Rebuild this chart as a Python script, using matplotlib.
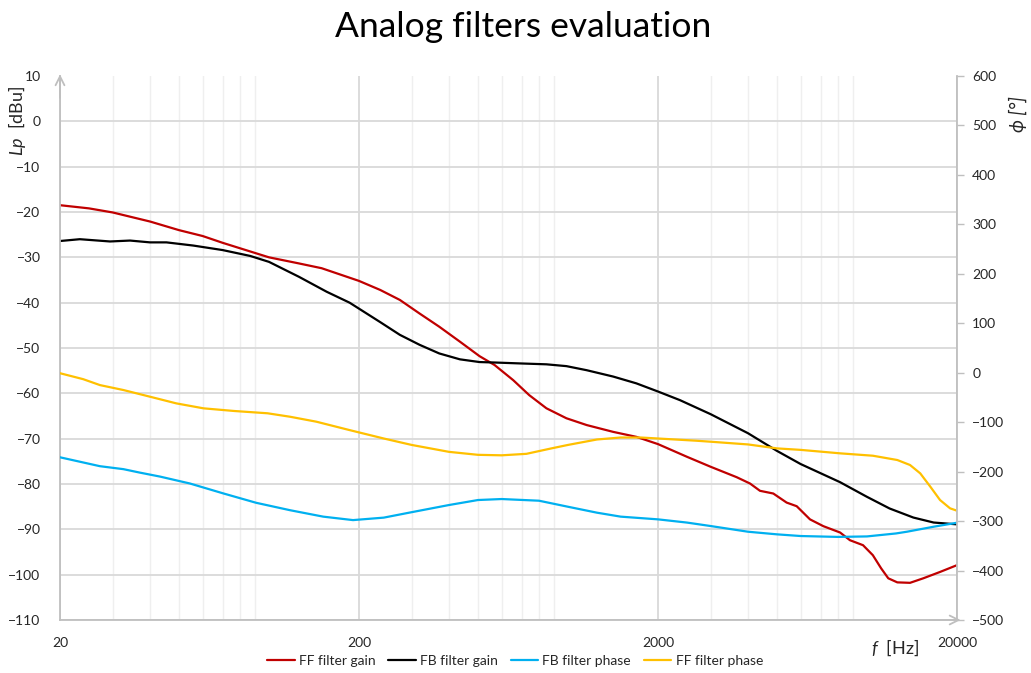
import numpy as np
import matplotlib.pyplot as plt
from matplotlib.ticker import FixedLocator, NullFormatter

plt.rcParams['font.family'] = ['Lato', 'DejaVu Sans']
plt.rcParams['mathtext.fontset'] = 'custom'
plt.rcParams['mathtext.it'] = 'Lato:italic'
plt.rcParams['mathtext.rm'] = 'Lato'

# FF filter gain [dBu]
f_ff_gain = [20, 25, 30, 40, 50, 60, 70, 80, 100, 125, 150, 200, 235.6, 274, 319, 371,
             435, 506, 568, 656, 742, 847, 988, 1155, 1416, 1693, 2000, 2500, 3000, 3666,
             4064, 4386, 4860, 5386, 5820, 6447, 7144, 8128, 8770, 9700, 10460, 11150,
             11780, 12630, 13930, 15430, 17550, 20000]
ff_gain = [-18.5, -19.2, -20.1, -22.1, -24.0, -25.3, -26.8, -28.0, -30.0, -31.3, -32.4,
           -35.2, -37.2, -39.4, -42.4, -45.3, -48.6, -51.8, -53.75, -57.1, -60.4, -63.3,
           -65.5, -67.0, -68.5, -69.6, -71.2, -74.0, -76.2, -78.5, -79.9, -81.5, -82.1,
           -84.1, -84.9, -87.8, -89.3, -90.7, -92.4, -93.5, -95.7, -98.6, -100.8, -101.7,
           -101.8, -100.8, -99.4, -97.9]

# FB filter gain [dBu]
f_fb_gain = [20, 23.3, 29.4, 34.3, 40, 45.4, 55.8, 70, 86.6, 100, 126, 156, 186, 235.6,
             274, 319, 371, 435, 506, 568, 689, 847, 988, 1155, 1416, 1693, 2000, 2368,
             3000, 4000, 5000, 6000, 8128, 9978, 11900, 14290, 16710, 20000]
fb_gain = [-26.4, -26.0, -26.5, -26.3, -26.7, -26.7, -27.4, -28.4, -29.7, -31.0, -34.3,
           -37.6, -40.0, -44.3, -47.1, -49.3, -51.2, -52.5, -53.1, -53.2, -53.4, -53.6,
           -54.0, -54.9, -56.3, -57.8, -59.6, -61.5, -64.6, -68.8, -72.7, -75.6, -79.6,
           -82.8, -85.4, -87.4, -88.5, -88.9]

# FB filter phase [deg]
f_fb_phase = [20, 27.2, 32.6, 37, 43.2, 54.4, 70.3, 90.6, 117.6, 151.8, 191, 242, 300,
              400, 500, 600, 800, 1000, 1250, 1500, 2000, 2500, 3000, 4000, 5000, 6000,
              8000, 10000, 12500, 13600, 15000, 16710, 20000]
fb_phase = [-171, -189, -195, -202, -210, -224, -244, -263, -278, -291, -298, -293, -282,
            -267.5, -257.4, -255.4, -258.8, -271, -283, -291, -296.5, -303, -310, -321.5,
            -326.8, -330.2, -332, -331, -325, -321.5, -316.7, -311.4, -303.3]

# FF filter phase [deg]
f_ff_phase = [20, 23.9, 27.2, 32.6, 40, 49, 60.4, 76.6, 98.9, 117.6, 144, 186, 242, 300,
              400, 500, 600, 726, 880, 1000, 1250, 1500, 1750, 2000, 2690, 3000, 4000,
              5000, 6000, 8128, 10460, 12630, 13930, 15070, 16290, 17550, 18960, 20000]
ff_phase = [-1, -13, -25, -35, -48.5, -62, -72, -77.4, -82, -89, -99, -116, -133, -146,
            -160, -166, -167, -164, -153, -146, -135, -131, -131, -133, -137.5, -139.5,
            -145, -153, -156, -163, -167.8, -176.5, -186.6, -203.5, -230.5, -257.4,
            -274.2, -279]

x_ticks = [20, 200, 2000, 20000]
x_minor = [m * 10 ** k for k in range(1, 4) for m in range(3, 10)]
gain_ticks = list(range(-110, 11, 10))
phase_ticks = list(range(-500, 601, 100))

axis_gray = '#BFBFBF'
grid_gray = '#D9D9D9'
text_col = '#262626'

fig = plt.figure(figsize=(10.31, 6.73), dpi=100)
ax = fig.add_axes([60 / 1031, 53 / 673, 897 / 1031, 544 / 673])
ax2 = ax.twinx()

ax.set_xscale('log')
ax.set_xlim(20, 20000)
ax.set_ylim(-110, 10)
ax2.set_ylim(-500, 600)

ax.xaxis.set_major_locator(FixedLocator(x_ticks))
ax.xaxis.set_minor_locator(FixedLocator(x_minor))
ax.xaxis.set_minor_formatter(NullFormatter())
ax.set_xticklabels([str(t) for t in x_ticks])
ax.set_yticks(gain_ticks)
ax2.set_yticks(phase_ticks)

ax.tick_params(axis='both', which='both', length=0, labelsize=10, colors=text_col)
ax.tick_params(axis='x', pad=12)
ax.tick_params(axis='y', pad=14)
ax2.tick_params(axis='y', length=5, width=1, color=axis_gray, labelsize=10,
                labelcolor=text_col, pad=6)

ax.grid(which='major', axis='both', color=grid_gray, lw=1.3)
ax.grid(which='minor', axis='x', color='#EFEFEF', lw=1.0)
ax.get_ygridlines()[-1].set_visible(False)
ax.set_axisbelow(True)

for s in ['top', 'right']:
    ax.spines[s].set_visible(False)
for s in ['top', 'left', 'bottom']:
    ax2.spines[s].set_visible(False)
for s in ['left', 'bottom']:
    ax.spines[s].set_color(axis_gray)
    ax.spines[s].set_linewidth(1.3)
ax2.spines['right'].set_color(axis_gray)
ax2.spines['right'].set_linewidth(1.3)

# open arrow heads on the left and bottom axis lines
arrow = dict(arrowstyle='->', color=axis_gray, lw=1.3, mutation_scale=16,
             shrinkA=0, shrinkB=0)
ax.annotate('', xy=(0, 1.003), xytext=(0, 0.96), xycoords='axes fraction',
            arrowprops=arrow, annotation_clip=False)
ax.annotate('', xy=(1.004, 0), xytext=(0.97, 0), xycoords='axes fraction',
            arrowprops=arrow, annotation_clip=False)

style = dict(lw=1.6, solid_joinstyle='round', solid_capstyle='round')
l1, = ax.plot(f_ff_gain, ff_gain, color='#C00000', label='FF filter gain', **style)
l2, = ax.plot(f_fb_gain, fb_gain, color='black', label='FB filter gain', **style)
l3, = ax2.plot(f_fb_phase, fb_phase, color='#00B0F0', label='FB filter phase', **style)
l4, = ax2.plot(f_ff_phase, ff_phase, color='#FFC000', label='FF filter phase', **style)

fig.text(0.507, 1 - 27 / 673, 'Analog filters evaluation', ha='center', va='center',
         fontsize=25.5, color='black')
fig.text(17 / 1031, 1 - 121 / 673, r'$Lp$  [dBu]', rotation=90, ha='center',
         va='center', fontsize=13, color=text_col)
fig.text(1018 / 1031, 1 - 114 / 673, 'ϕ [°]', rotation=90, ha='center', va='center',
         fontsize=13.5, color=text_col, style='italic')
fig.text(895 / 1031, 1 - 648 / 673, r'$f$  [Hz]', ha='center', va='center',
         fontsize=13, color=text_col)

fig.legend(handles=[l1, l2, l3, l4], loc='center', bbox_to_anchor=(515 / 1031, 1 - 661 / 673),
           ncol=4, frameon=False, fontsize=10, handlelength=2.0, handletextpad=0.3,
           columnspacing=0.9, labelcolor=text_col)

fig.savefig('out.png', dpi=100)
